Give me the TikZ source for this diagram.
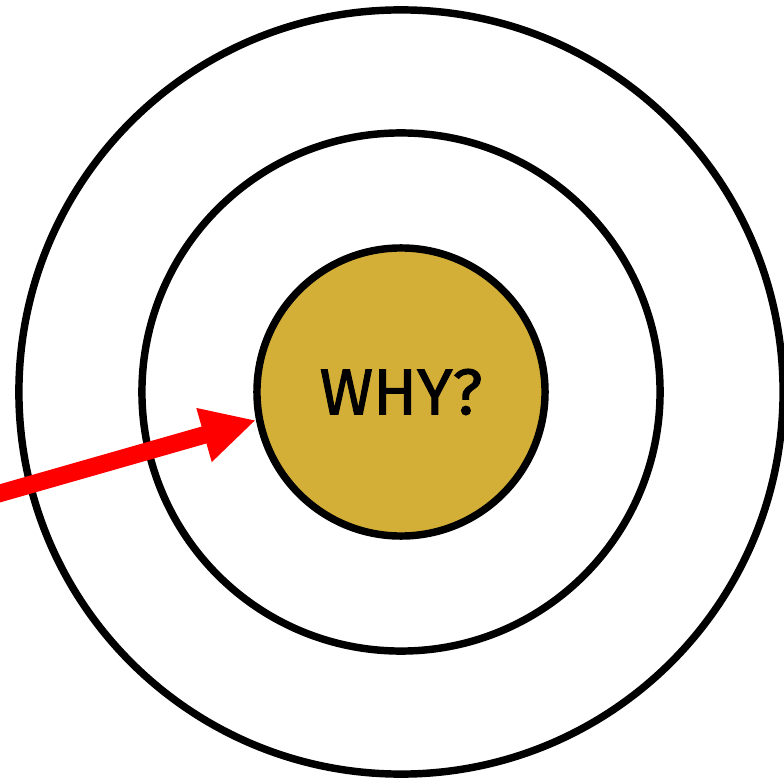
\documentclass[tikz,border=0pt]{standalone}
\usepackage{fontspec}
\setmainfont{Fira Sans}
\newfontfamily\whyfont[FakeBold=1.5]{Fira Sans}
\usetikzlibrary{arrows.meta}
\definecolor{gold}{RGB}{212,175,55}
\tikzset{ring/.style={draw, circle, line width=5.3pt, inner sep=0pt}}

\begin{document}
\begin{tikzpicture} [x=0.025cm, y=-0.025cm]
        \useasboundingbox (0,0) rectangle (784,781);
        \clip (0,0) rectangle (784,781);
        \node[ring, minimum size=19.1cm] (outer) at (401,392) {};
        \node[ring, minimum size=12.95cm] (middle) at (401,392) {};
        \node[ring, minimum size=7.2cm, fill=gold, font=\whyfont\fontsize{46}{46}\selectfont] (why) at (401,392) {WHY?};
        \coordinate (start) at (-20,499);
        \draw[red, line width=12.5pt, -{Triangle[length=1.35cm, width=1.3cm]}] (start) -- (why.191);
    \end{tikzpicture}
\end{document}
